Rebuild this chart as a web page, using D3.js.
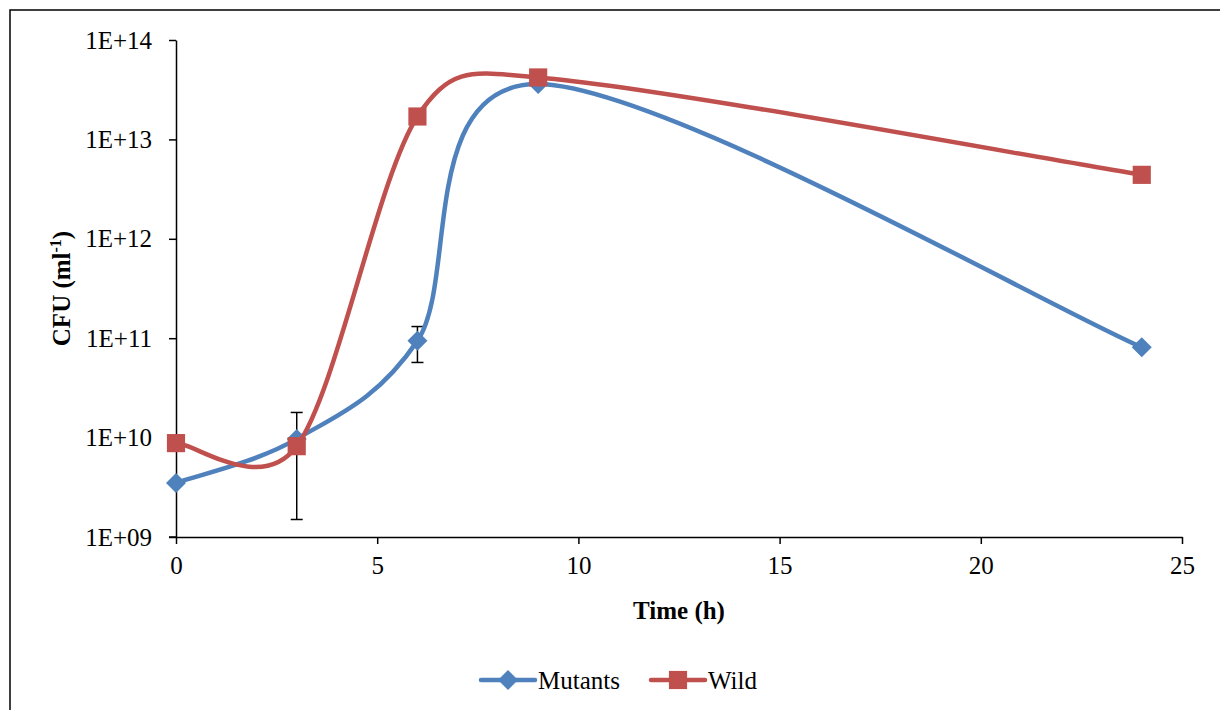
<!DOCTYPE html>
<html>
<head>
<meta charset="utf-8">
<script src="https://cdn.jsdelivr.net/npm/d3@7"></script>
<style>
  body { margin: 0; background: #fff; }
  svg text { font-family: "Liberation Serif", "Times New Roman", serif !important; }
</style>
</head>
<body>
<div id="chart"></div>
<script>
// values
var times = [0, 3, 6, 9, 24];
var mutants = [3.5e9, 9.7e9, 9.4e10, 3.6e13, 8.1e10];
var wild = [8.8e9, 8.2e9, 1.7e13, 4.2e13, 4.4e12];
// symmetric error on the mutants (0 = not drawn)
var mutantErr = [0, 8.2e9, 3.7e10, 0, 0];
var xTicks = [0, 5, 10, 15, 20, 25];
var yTicks = [1e9, 1e10, 1e11, 1e12, 1e13, 1e14];

var W = 1220, H = 710;
var margin = {top: 40, right: 38, bottom: 173, left: 176};
var FONT = "'Liberation Serif', 'Times New Roman', serif";

var svg = d3.select("#chart").append("svg")
  .attr("width", W).attr("height", H);

// outer frame (runs off right and bottom)
svg.append("rect")
  .attr("x", 10).attr("y", 10)
  .attr("width", W + 20).attr("height", H + 20)
  .attr("fill", "none").attr("stroke", "black").attr("stroke-width", 1.5);

var x = d3.scaleLinear().domain([0, 25]).range([margin.left, W - margin.right]);
var y = d3.scaleLog().domain([1e9, 1e14]).range([H - margin.bottom, margin.top]);

// y axis
var yAxis = svg.append("g")
  .attr("transform", "translate(" + margin.left + ",0)")
  .call(d3.axisLeft(y).tickValues(yTicks).tickSize(7).tickSizeOuter(0)
    .tickFormat(function(d) { return "1E+" + d3.format("02d")(Math.round(Math.log10(d))); }));
yAxis.attr("font-family", FONT);
yAxis.select(".domain").attr("stroke-width", 1.5);
yAxis.selectAll(".tick line").attr("stroke-width", 1.5);
yAxis.selectAll("text").style("font-size", "25px").style("font-family", FONT)
  .attr("fill", "black").attr("x", -24);

// x axis
var xAxis = svg.append("g")
  .attr("transform", "translate(0," + y(1e9) + ")")
  .call(d3.axisBottom(x).tickValues(xTicks).tickSize(7).tickSizeOuter(0));
xAxis.attr("font-family", FONT);
xAxis.select(".domain").attr("stroke-width", 1.5);
xAxis.selectAll(".tick line").attr("stroke-width", 1.5);
xAxis.selectAll("text").style("font-size", "25px").style("font-family", FONT)
  .attr("fill", "black").attr("y", 19);
// extend axis line to meet the left tick
svg.append("line")
  .attr("x1", margin.left - 7).attr("x2", margin.left)
  .attr("y1", y(1e9)).attr("y2", y(1e9))
  .attr("stroke", "black").attr("stroke-width", 1.5);

// axis titles
svg.append("text")
  .attr("x", x(12.5)).attr("y", 619)
  .attr("text-anchor", "middle")
  .style("font-family", FONT)
  .style("font-size", "25px").style("font-weight", "bold")
  .text("Time (h)");

var yt = svg.append("text")
  .attr("transform", "translate(70," + ((y(1e9) + y(1e14)) / 2) + ") rotate(-90)")
  .attr("text-anchor", "middle")
  .style("font-family", FONT)
  .style("font-size", "25px").style("font-weight", "bold");
yt.append("tspan").text("CFU (ml");
yt.append("tspan").attr("dy", -9).style("font-size", "16px").text("-1");
yt.append("tspan").attr("dy", 9).text(")");

var series = [
  {name: "Mutants", values: mutants, color: "#4F81BD", size: 200, rot: 45},
  {name: "Wild", values: wild, color: "#C0504D", size: 330, rot: 0}
];

// Excel-style smoothed line: bezier with 1/6 tangents, clamped to half a segment
function smoothPath(pts) {
  var p = d3.path();
  var n = pts.length;
  p.moveTo(pts[0][0], pts[0][1]);
  function ctrl(i, j, sign) {
    var a = pts[Math.max(i - 1, 0)], b = pts[Math.min(i + 1, n - 1)];
    var tx = b[0] - a[0], ty = b[1] - a[1];
    var tl = Math.hypot(tx, ty);
    var seg = Math.hypot(pts[j][0] - pts[i][0], pts[j][1] - pts[i][1]);
    var d = Math.min(tl / 6, seg / 2);
    return [pts[i][0] + sign * tx / tl * d, pts[i][1] + sign * ty / tl * d];
  }
  for (var i = 0; i < n - 1; i++) {
    var c1 = ctrl(i, i + 1, 1), c2 = ctrl(i + 1, i, -1);
    p.bezierCurveTo(c1[0], c1[1], c2[0], c2[1], pts[i + 1][0], pts[i + 1][1]);
  }
  return p.toString();
}

// error bars on mutants
var errData = times.map(function(t, i) { return {t: t, v: mutants[i], e: mutantErr[i]}; })
  .filter(function(d) { return d.e > 0; });

var eb = svg.append("g").selectAll("g").data(errData).enter().append("g")
  .attr("stroke", "black").attr("stroke-width", 1.5);
eb.append("line")
  .attr("x1", function(d) { return x(d.t); }).attr("x2", function(d) { return x(d.t); })
  .attr("y1", function(d) { return y(d.v + d.e); }).attr("y2", function(d) { return y(d.v - d.e); });
eb.append("line")
  .attr("x1", function(d) { return x(d.t) - 6; }).attr("x2", function(d) { return x(d.t) + 6; })
  .attr("y1", function(d) { return y(d.v + d.e); }).attr("y2", function(d) { return y(d.v + d.e); });
eb.append("line")
  .attr("x1", function(d) { return x(d.t) - 6; }).attr("x2", function(d) { return x(d.t) + 6; })
  .attr("y1", function(d) { return y(d.v - d.e); }).attr("y2", function(d) { return y(d.v - d.e); });

series.forEach(function(s) {
  var pts = times.map(function(t, i) { return [x(t), y(s.values[i])]; });
  svg.append("path")
    .attr("d", smoothPath(pts))
    .attr("fill", "none")
    .attr("stroke", s.color)
    .attr("stroke-width", 4.5)
    .attr("stroke-linecap", "round");
  svg.append("g").selectAll("path").data(pts).enter().append("path")
    .attr("d", d3.symbol().type(d3.symbolSquare).size(s.size))
    .attr("transform", function(d) { return "translate(" + d[0] + "," + d[1] + ") rotate(" + s.rot + ")"; })
    .attr("fill", s.color);
});

// legend
var legend = svg.append("g").attr("transform", "translate(0,680)");
var lx = [481, 651];
series.forEach(function(s, i) {
  var g = legend.append("g").attr("transform", "translate(" + lx[i] + ",0)");
  g.append("line").attr("x1", 0).attr("x2", 54).attr("y1", 0).attr("y2", 0)
    .attr("stroke", s.color).attr("stroke-width", 4.5).attr("stroke-linecap", "round");
  g.append("path")
    .attr("d", d3.symbol().type(d3.symbolSquare).size(s.size))
    .attr("transform", "translate(27,0) rotate(" + s.rot + ")")
    .attr("fill", s.color);
  g.append("text").attr("x", 57).attr("y", 9)
    .style("font-family", FONT)
    .style("font-size", "25px").text(s.name);
});
</script>
</body>
</html>
